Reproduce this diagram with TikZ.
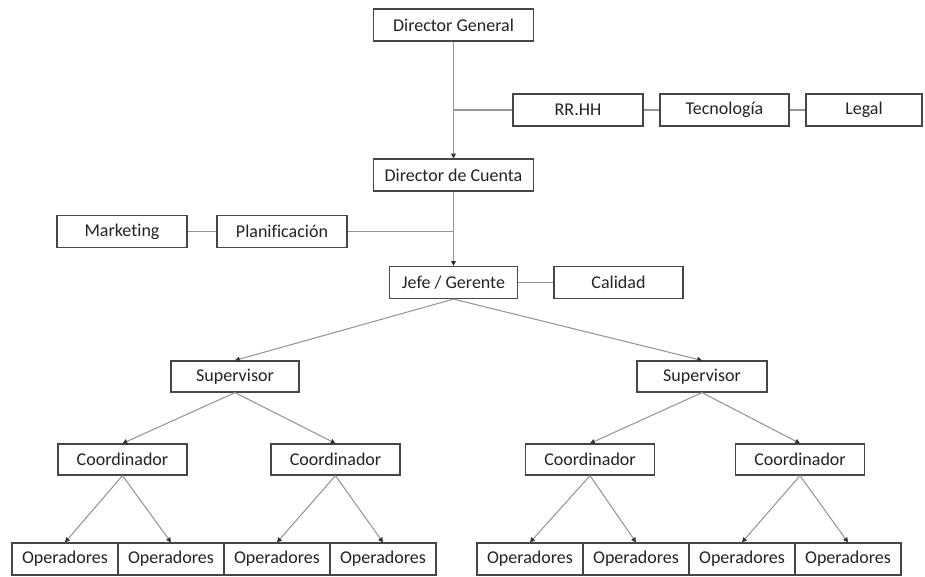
\documentclass[tikz,border=0pt]{standalone}
\usepackage{fontspec}
\setmainfont{Carlito}[Ligatures=NoCommon]
\usetikzlibrary{arrows.meta,positioning}
\definecolor{ink}{RGB}{35,35,35}
\definecolor{wire}{RGB}{150,150,150}
\definecolor{frame}{RGB}{70,70,70}
\tikzset{
  >={Triangle[length=3.6pt,width=3.6pt,color=black!80]},
  box/.style={draw=frame,line width=0.9pt,fill=white,text=ink,
    minimum width=#1*0.75pt,minimum height=24pt,inner sep=0pt,
    font=\fontsize{13.5}{15}\selectfont},
  box/.default=130,
  link/.style={draw=wire,line width=0.8pt},
  flow/.style={->,draw=wire,line width=0.8pt},
}
\begin{document}
\begin{tikzpicture}[x=0.75pt,y=-0.75pt]
  \useasboundingbox (0,0) rectangle (925,576);
  % direction and staff
  \node[box=160] (dg) at (453.5,25) {Director General};
  \node[box=160] (ddc) at (453.5,175) {Director de Cuenta};
  \node[box] (rrhh) at (578,110) {RR.HH};
  \node[box=129] (tec) at (724.5,110) {Tecnología};
  \node[box=116] (legal) at (864,110) {Legal};
  \node[box] (mkt) at (122,231.5) {Marketing};
  \node[box] (plan) at (282,231.5) {Planificación};
  \node[box=128] (jefe) at (453.5,282.5) {Jefe / Gerente};
  \node[box=129] (cal) at (618.5,282.5) {Calidad};
  \draw[flow] (dg) -- (ddc);
  \draw[flow] (ddc) -- (jefe);
  \draw[link] (dg.south |- rrhh.west) -- (rrhh.west);
  \draw[link] (rrhh) -- (tec);
  \draw[link] (tec) -- (legal);
  \draw[link] (plan.east) -- (plan.east -| ddc.south);
  \draw[link] (mkt) -- (plan);
  \draw[link] (jefe) -- (cal);
  % supervisors and coordinators
  \node[box=128,minimum height=23.25pt] (sup1) at (235,376.5) {Supervisor};
  \node[box=130,minimum height=23.25pt] (sup2) at (702,376.5) {Supervisor};
  \foreach \n/\x in {co1/122.5,co2/335.5,co3/590,co4/800}
    \node[box=129,minimum height=23.25pt] (\n) at (\x,459.5) {Coordinador};
  \foreach \s in {sup1,sup2} \draw[flow] (jefe.south) -- (\s.north);
  \foreach \s/\c in {sup1/co1,sup1/co2,sup2/co3,sup2/co4} \draw[flow] (\s.south) -- (\c.north);
  % operators
  \foreach \i/\x in {1/65,2/171,3/277,4/383,5/530,6/636,7/742,8/848}
    \node[box=106] (op\i) at (\x,559) {Operadores};
  \foreach \c/\a/\b in {co1/op1/op2,co2/op3/op4,co3/op5/op6,co4/op7/op8}
    {\draw[flow] (\c.south) -- (\a.north); \draw[flow] (\c.south) -- (\b.north);}
\end{tikzpicture}
\end{document}
